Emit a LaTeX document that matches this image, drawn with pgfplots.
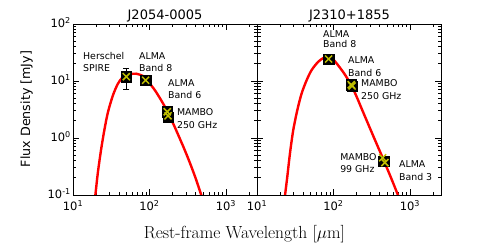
\documentclass[border=0pt]{standalone}
\usepackage{pgfplots}
\pgfplotsset{compat=1.18}
\usepackage{fontspec}
\newfontfamily\dejavu{DejaVu Sans}
\definecolor{myyellow}{rgb}{0.75,0.75,0}
\pgfplotsset{
 every axis/.append style={
  scale only axis, width=184pt, height=171pt,
  xmin=10, xmax=2550, ymin=0.1, ymax=100,
  xtick={10,100,1000},
  xticklabels={10\textsuperscript{1},10\textsuperscript{2},10\textsuperscript{3}},
  ytick={0.1,1,10,100},
  minor xtick={20,30,40,50,60,70,80,90,200,300,400,500,600,700,800,900,2000},
  minor ytick={0.2,0.3,0.4,0.5,0.6,0.7,0.8,0.9,2,3,4,5,6,7,8,9,20,30,40,50,60,70,80,90},
  tick align=inside, major tick length=6pt, minor tick length=3.5pt,
  every tick/.style={black, line width=0.8pt},
  axis line style={line width=0.9pt},
  ticklabel style={font=\dejavu\fontsize{11.5}{13}\selectfont, inner sep=1pt},
  xticklabel style={yshift=-4pt},
  yticklabel style={yshift=1.5pt, xshift=-1pt},
  anchor=south west,
 },
}
\tikzset{ann/.style={anchor=west, inner sep=0pt, align=left, font=\dejavu\fontsize{9.4}{12.3}\selectfont}}
\begin{document}
\begin{tikzpicture}[x=1pt,y=1pt]
\path[use as bounding box] (0,0) rectangle (491,245);
% left panel
\begin{loglogaxis}[at={(73pt,50pt)},
  yticklabels={10\textsuperscript{-1},10\textsuperscript{0},10\textsuperscript{1},10\textsuperscript{2}}]
\addplot[red, line width=2.4pt, smooth] coordinates {
(18.5,0.05) (19.6,0.099) (21.2,0.254) (23.4,0.649) (25.9,1.455) (28.7,2.86) (33.3,5.61) (38.7,8.97) (45.1,11.75) (55.1,13.12) (67.1,13.43) (82.2,12.25) (90,10.8) (100.5,9.1) (118,6.86) (137,5.0) (160,3.49) (185,2.38) (215,1.54) (250,0.97) (290,0.61) (338,0.366) (400,0.2) (471,0.104) (520,0.069)};
\addplot[only marks, mark=none, black, error bars/.cd, y dir=both, y explicit,
  error bar style={line width=1pt}, error mark options={rotate=90, mark size=3pt, line width=1pt}]
  coordinates {(49.8,11.9) += (0,4.8) -= (0,4.8)};
\addplot[only marks, mark=square*, mark size=5.2pt, black] coordinates {
(49.8,11.9) (89,10.3) (171,2.89) (175,2.31)};
\addplot[only marks, mark=x, mark size=5pt, myyellow, line width=1.5pt] coordinates {
(49.8,11.9) (89,10.3) (171,2.89) (175,2.45)};
\node[ann] at (axis cs:13.5,21.5) {Herschel\\SPIRE};
\node[ann] at (axis cs:73,21.5) {ALMA\\Band 8};
\node[ann] at (axis cs:175,7.1) {ALMA\\Band 6};
\node[ann] at (axis cs:228,2.2) {MAMBO\\250 GHz};
\end{loglogaxis}
% right panel
\begin{loglogaxis}[at={(257pt,50pt)}, yticklabels={}]
\addplot[red, line width=2.4pt, smooth] coordinates {
(21.8,0.046) (23.2,0.096) (24.9,0.209) (27.0,0.539) (29.8,1.38) (33.7,3.10) (38.4,6.08) (44.7,10.4) (51.9,15.6) (63.3,21.8) (75,25.6) (84,26.3) (93,25.5) (105.7,21.8) (142.6,12.7) (183.6,6.95) (248,2.71) (335,1.05) (453,0.41) (582,0.183) (697,0.1) (760,0.075)};
\addplot[only marks, mark=square*, mark size=5.2pt, black] coordinates {
(86.5,24.3) (171,8.6) (175,8.2) (453,0.39)};
\addplot[only marks, mark=x, mark size=5pt, myyellow, line width=1.5pt] coordinates {
(86.5,24.3) (171,8.6) (175,8.2) (440,0.45) (470,0.37)};
\node[ann, font=\dejavu\fontsize{9.4}{9.5}\selectfont] at (axis cs:73,54.6) {ALMA\\Band 8};
\node[ann] at (axis cs:155,17.9) {ALMA\\Band 6};
\node[ann] at (axis cs:229,7.1) {MAMBO\\250 GHz};
\node[ann] at (axis cs:122,0.364) {MAMBO\\99 GHz};
\node[ann] at (axis cs:718,0.269) {ALMA\\Band 3};
\end{loglogaxis}
\node[anchor=base, font=\dejavu\fontsize{13}{15}\selectfont] at (165,225) {J2054-0005};
\node[anchor=base, font=\dejavu\fontsize{13}{15}\selectfont] at (349.5,225) {J2310+1855};
\node[anchor=base, rotate=90, font=\dejavu\fontsize{12.7}{14}\selectfont] at (30,136) {Flux Density [mJy]};
\node[anchor=base, font=\fontsize{17.5}{19}\selectfont] at (244.5,6) {Rest-frame Wavelength [$\mu$m]};
\end{tikzpicture}
\end{document}
